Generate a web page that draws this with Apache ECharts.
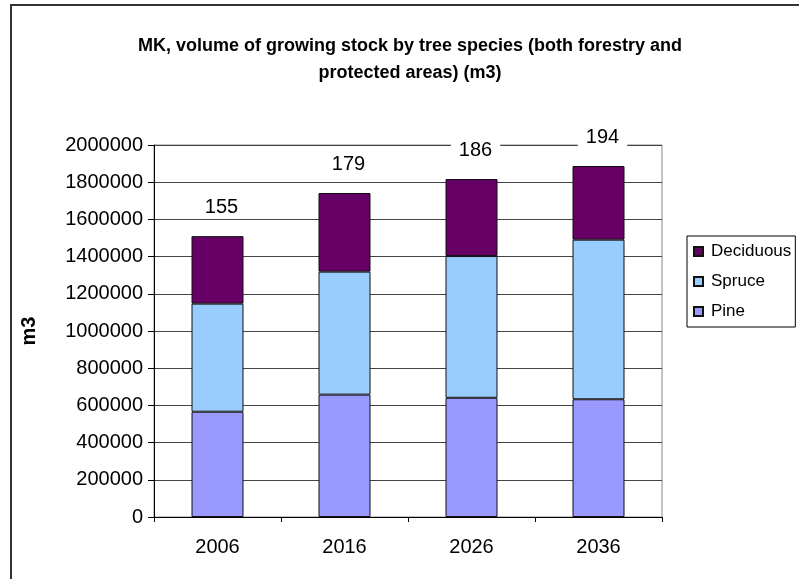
<!DOCTYPE html>
<html>
<head>
<meta charset="utf-8">
<script src="https://cdn.jsdelivr.net/npm/echarts@6/dist/echarts.min.js"></script>
<style>
  html, body { margin: 0; padding: 0; background: #fff; }
  #chart { width: 799px; height: 579px; }
</style>
</head>
<body>
<div id="chart"></div>
<script>
const years = ['2006', '2016', '2026', '2036']
const pine = [566000, 658000, 641000, 633000]
const spruce = [581000, 661000, 762000, 858000]
const deciduous = [363000, 423000, 414000, 396000]
const topLabels = ['155', '179', '186', '194']
const yTicks = [0, 200000, 2000000]

const FONT = '"Liberation Sans", Arial, sans-serif'

const chart = echarts.init(document.getElementById('chart'))

const barStyle = (color) => ({
    color: color,
    borderColor: '#111',
    borderWidth: 1
})

let option = {
    backgroundColor: '#fff',
    animation: false,
    textStyle: { fontFamily: FONT, color: '#000' },
    title: {
        text: 'MK, volume of growing stock by tree species (both forestry and\nprotected areas) (m3)',
        left: 405,
        textAlign: 'center',
        top: 28,
        textStyle: {
            fontFamily: FONT,
            fontSize: 18,
            fontWeight: 'bold',
            color: '#000',
            lineHeight: 27
        }
    },
    legend: {
        orient: 'vertical',
        left: 687,
        top: 236,
        padding: [7, 4, 7, 6],
        itemGap: 13,
        itemWidth: 9,
        itemHeight: 9,
        icon: 'rect',
        borderColor: '#000',
        borderWidth: 1,
        data: ['Deciduous', 'Spruce', 'Pine'],
        textStyle: { fontFamily: FONT, fontSize: 17, color: '#000', padding: [0, 0, 0, 3] }
    },
    grid: {
        left: 154,
        right: 137,
        top: 145,
        bottom: 62,
        show: true,
        borderColor: '#888',
        borderWidth: 1,
        containLabel: false
    },
    xAxis: {
        type: 'category',
        data: years,
        axisLine: { show: true, lineStyle: { color: '#000', width: 1 } },
        axisTick: { show: true, length: 5, lineStyle: { color: '#000' } },
        axisLabel: { fontFamily: FONT, fontSize: 20, color: '#000', margin: 20 },
        splitLine: { show: false }
    },
    yAxis: {
        type: 'value',
        min: yTicks[0],
        max: yTicks[2],
        interval: yTicks[1],
        name: 'm3',
        nameLocation: 'middle',
        nameRotate: 90,
        nameGap: 115,
        nameTextStyle: { fontFamily: FONT, fontSize: 20, fontWeight: 'bold', color: '#000' },
        axisLine: { show: true, lineStyle: { color: '#000', width: 1 } },
        axisTick: { show: true, inside: false, length: 6, lineStyle: { color: '#000' } },
        axisLabel: {
            fontFamily: FONT,
            fontSize: 20,
            color: '#000',
            margin: 11,
            formatter: (v) => String(v)
        },
        splitLine: { show: true, lineStyle: { color: '#444', width: 1 } }
    },
    series: [
        {
            name: 'Pine',
            type: 'bar',
            stack: 'total',
            barWidth: 52,
            itemStyle: barStyle('#9999FF'),
            data: pine
        },
        {
            name: 'Spruce',
            type: 'bar',
            stack: 'total',
            barWidth: 52,
            itemStyle: barStyle('#99CCFF'),
            data: spruce
        },
        {
            name: 'Deciduous',
            type: 'bar',
            stack: 'total',
            barWidth: 52,
            itemStyle: barStyle('#660066'),
            label: {
                show: true,
                position: 'top',
                distance: 18,
                offset: [4, 0],
                fontFamily: FONT,
                fontSize: 20,
                color: '#000',
                backgroundColor: '#fff',
                padding: [1, 8],
                formatter: (p) => topLabels[p.dataIndex]
            },
            data: deciduous
        }
    ],
    graphic: [
        {
            // outer chart frame, cut off at the right and bottom of the picture
            type: 'rect',
            silent: true,
            z: 100,
            shape: { x: 11, y: 5, width: 820, height: 620 },
            style: { fill: 'none', stroke: '#333', lineWidth: 2 }
        }
    ]
}

chart.setOption(option)
</script>
</body>
</html>
